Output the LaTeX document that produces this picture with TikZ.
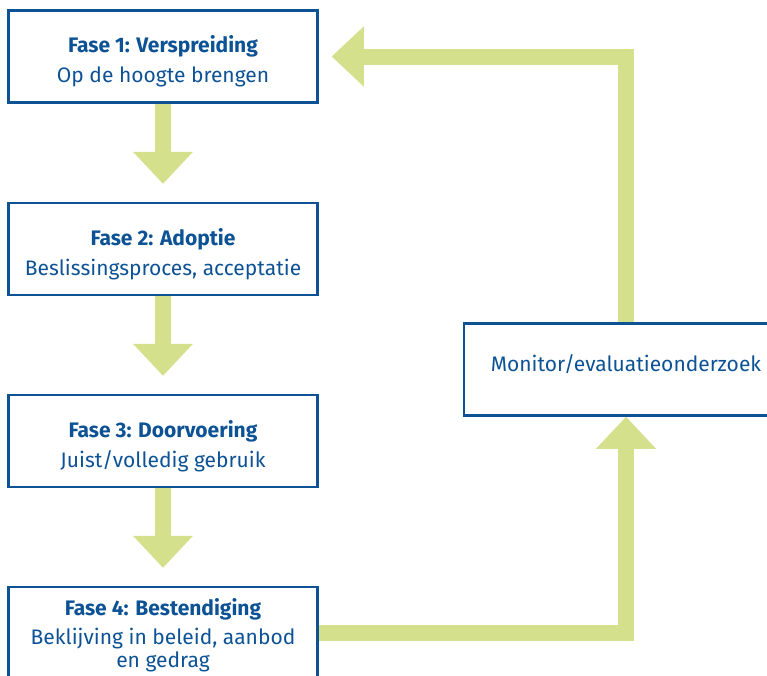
\documentclass[tikz,border=0pt]{standalone}
\usepackage{fontspec}
\setmainfont{Fira Sans}
\usetikzlibrary{arrows.meta,backgrounds}
\definecolor{fasblue}{HTML}{0D5295}
\definecolor{fasgreen}{HTML}{D4E08B}

\begin{document}
\begin{tikzpicture}[x=1pt,y=-1pt,
    fase/.style={draw=fasblue, line width=2.5pt, minimum width=309pt,
      minimum height=92pt, inner sep=0pt},
    fasetext/.style={text=fasblue, align=center, inner sep=0pt,
      font=\fontsize{21}{24}\selectfont},
    flow/.style={fasgreen, line width=16pt, line join=miter,
      -{Triangle[width=60pt,length=32pt,line width=0pt]}}]
    \useasboundingbox (0,0) rectangle (767,675);

    \node (b1) at (163,56.5) [fase] {};
    \node (b2) at (163,249) [fase] {};
    \node (b3) at (163,441) [fase] {};
    \node (b4) at (163,633) [fase] {};
    \node (mon) at (626,369.5) [fase, minimum width=324pt] {};

    \node (t1) at ([yshift=-5pt]b1.center) [fasetext] {\textbf{Fase 1: Verspreiding}\\[6pt]Op de hoogte brengen};
    \node (t2) at ([yshift=-5pt]b2.center) [fasetext] {\textbf{Fase 2: Adoptie}\\[6pt]Beslissingsproces, acceptatie};
    \node (t3) at ([yshift=-5pt]b3.center) [fasetext] {\textbf{Fase 3: Doorvoering}\\[6pt]Juist/volledig gebruik};
    \node (t4) at ([yshift=-2pt]b4.center) [fasetext] {\textbf{Fase 4: Bestendiging}\\[5pt]Beklijving in beleid, aanbod\\[-1pt]en gedrag};
    \node (tm) at ([yshift=5pt]mon.center) [fasetext] {Monitor/evaluatieonderzoek};

    \begin{scope}[on background layer]
     \draw[flow, shorten >=18pt] (b1.south) -- (b2.north);
     \draw[flow, shorten >=18pt] (b2.south) -- (b3.north);
     \draw[flow, shorten >=18pt] (b3.south) -- (b4.north);

     \draw[flow] (b4.east) -| (mon.south);
     \draw[flow, shorten >=13pt] (mon.north) |- (b1.east);
    \end{scope}
  \end{tikzpicture}
\end{document}
